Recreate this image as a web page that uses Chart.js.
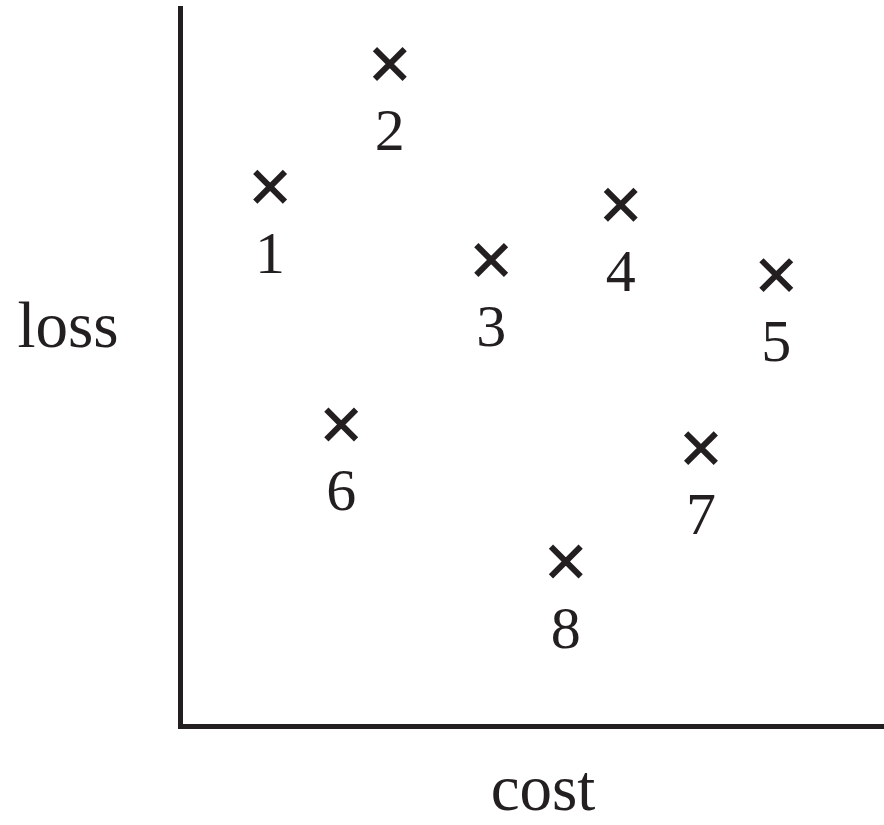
<!DOCTYPE html>
<html>
<head>
<meta charset="utf-8">
<script src="https://cdn.jsdelivr.net/npm/chart.js@4"></script>
<style>
  html, body { margin: 0; padding: 0; background: #fff; }
  #wrap { width: 884px; height: 825px; position: relative; }
</style>
</head>
<body>
<div id="wrap"><canvas id="c"></canvas></div>
<script>
/* ── Points coût / perte ── */
const IDS  = ['1','2','3','4','5','6','7','8'];
const COST = [12.8, 29.8, 44.2, 62.6, 84.7, 22.9, 74.0, 54.8];
const LOSS = [75.1, 92.2, 64.9, 72.6, 62.8, 42.0, 38.7, 22.9];

const INK = '#231f20';

// numéros sous chaque croix + titres d'axes horizontaux
const labelsPlugin = {
  id: 'labels',
  afterDatasetsDraw(chart) {
    const { ctx } = chart;
    const meta = chart.getDatasetMeta(0);
    ctx.save();
    ctx.fillStyle = INK;
    ctx.textAlign = 'center';
    ctx.textBaseline = 'alphabetic';
    ctx.font = '60px "Liberation Serif", serif';
    meta.data.forEach((pt, i) => ctx.fillText(IDS[i], pt.x, pt.y + 86));

    ctx.font = '65px "Liberation Serif", serif';
    ctx.fillText('cost', 543, 810);
    ctx.fillText('loss', 68, 347);
    ctx.restore();
  }
};

new Chart(document.getElementById('c'), {
  type: 'scatter',
  data: {
    datasets: [{
      data: COST.map((x, i) => ({ x, y: LOSS[i] })),
      pointStyle: 'crossRot',
      pointRadius: 21,
      pointHoverRadius: 21,
      borderColor: INK,
      borderWidth: 6,
      pointBorderWidth: 6,
      clip: false,
    }],
  },
  options: {
    responsive: true,
    maintainAspectRatio: false,
    animation: false,
    layout: { autoPadding: false, padding: { left: 180, right: 0, top: 8, bottom: 99 } },
    plugins: { legend: { display: false }, tooltip: { enabled: false } },
    scales: {
      x: {
        min: 0, max: 100,
        grid: { display: false, drawTicks: false },
        ticks: { display: false },
        border: { display: true, color: INK, width: 5 },
      },
      y: {
        min: 0, max: 100,
        grid: { display: false, drawTicks: false },
        ticks: { display: false },
        border: { display: true, color: INK, width: 5 },
      },
    },
  },
  plugins: [labelsPlugin],
});
</script>
</body>
</html>
